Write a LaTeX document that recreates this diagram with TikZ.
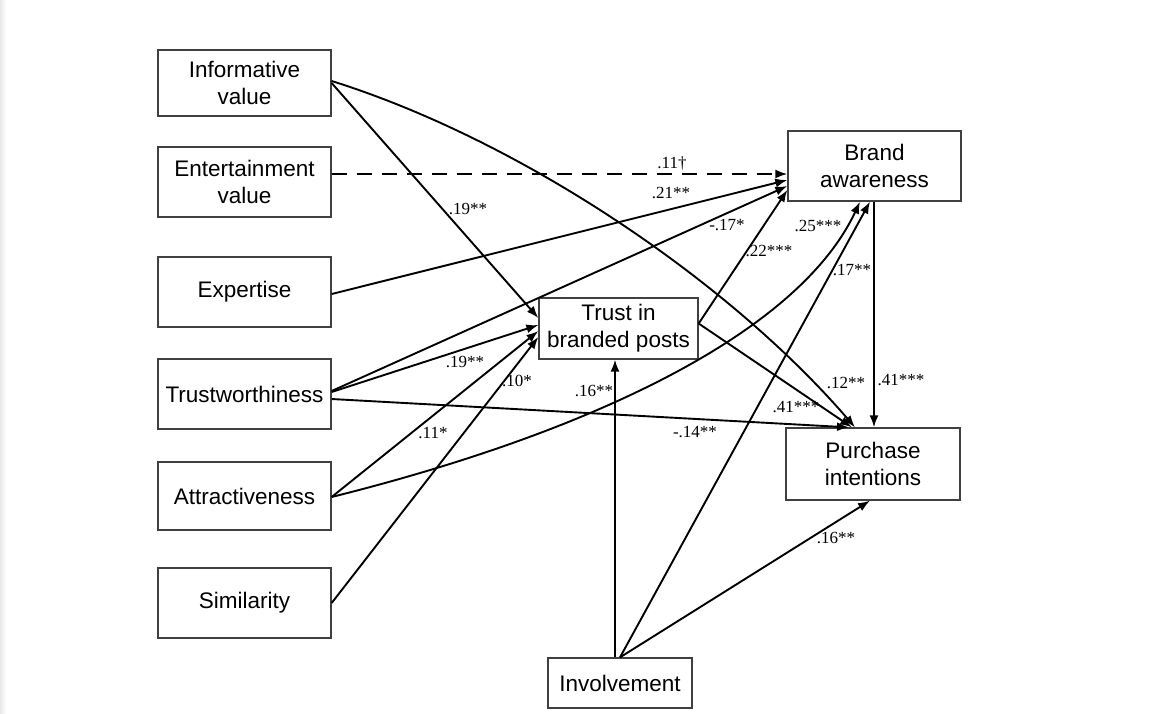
\documentclass[tikz,border=0pt]{standalone}
\usepackage{fontspec}
\setmainfont{Liberation Serif}
\newfontfamily\boxfont{Liberation Sans}
\usetikzlibrary{arrows.meta,calc}
\begin{document}
\begin{tikzpicture}[x=1pt,y=-1pt,
  box/.style={draw=black!75, line width=1.3pt, align=center, inner sep=0pt,
    font=\boxfont\fontsize{22.5}{27}\selectfont},
  arr/.style={-{Latex[length=12pt,width=9pt]}, line width=1.9pt},
  dasharr/.style={arr, dash pattern=on 15pt off 10pt},
  lbl/.style={font=\fontsize{17}{19}\selectfont, inner sep=0pt}]
\useasboundingbox (0,0) rectangle (1175,713);
\shade[left color=black!9, right color=white] (0,0) rectangle (6,713);

% boxes
\node[box, minimum width=173pt, minimum height=66pt] (inf) at (244.5,83) {Informative\\value};
\node[box, minimum width=173pt, minimum height=70pt] (ent) at (244.5,182) {Entertainment\\value};
\node[box, minimum width=173pt, minimum height=70pt] (exp) at (244.5,292) {Expertise};
\node[box, minimum width=173pt, minimum height=70pt] (trw) at (244.5,394) {Trustworthiness};
\node[box, minimum width=173pt, minimum height=68pt] (att) at (244.5,496) {Attractiveness};
\node[box, minimum width=173pt, minimum height=70pt] (sim) at (244.5,603) {Similarity};
\node[box, minimum width=159pt, minimum height=61pt] (trust) at (618.5,328.5) {Trust in\\branded posts};
\node[box, minimum width=173pt, minimum height=70pt] (brand) at (874.5,166) {Brand\\awareness};
\node[box, minimum width=174pt, minimum height=72pt] (purch) at (873,464) {Purchase\\intentions};
\node[box, minimum width=144pt, minimum height=50pt] (inv) at (620,683) {Involvement};

% connectors
\draw[arr] (inf.east) -- ($(trust.west)+(0,-10.5)$);
\draw[arr] ($(inf.east)+(0,-2)$) .. controls (520,140) and (728,280) .. ($(purch.north)+(-18,0)$);
\draw[dasharr] ($(ent.east)+(0,-8)$) -- ($(brand.west)+(0,8)$);
\draw[arr] ($(exp.east)+(0,2)$) -- ($(brand.west)+(0,14)$);
\draw[arr] ($(trw.east)+(0,-3)$) -- ($(brand.west)+(0,20)$);
\draw[arr] ($(trw.east)+(0,-2)$) -- ($(trust.west)+(0,-3.5)$);
\draw[arr] ($(trw.east)+(0,5)$) -- ($(purch.north)+(-24,0)$);
\draw[arr] ($(att.east)+(0,1)$) -- ($(trust.west)+(0,2.5)$);
\draw[arr] ($(att.east)+(0,1)$) .. controls (600,430) and (800,330) .. ($(brand.south)+(-14.5,0)$);
\draw[arr] (sim.east) -- ($(trust.west)+(0,8.5)$);
\draw[arr] ($(trust.east)+(0,-5)$) -- ($(brand.west)+(0,24)$);
\draw[arr] ($(trust.east)+(0,-5)$) -- ($(purch.north)+(-21,0)$);
\draw[arr] ($(inv.north)+(-5,0)$) -- ($(trust.south)+(-3.5,0)$);
\draw[arr] (inv.north) -- ($(brand.south)+(-4.5,0)$);
\draw[arr] (inv.north) -- ($(purch.south)+(-3,0)$);
\draw[arr] ($(brand.south)+(-0.5,0)$) -- ($(purch.north)+(1,0)$);

% labels
\node[lbl] (l1) at (468,209) {.19**};
\node[lbl] (l2) at (672,164) {.11†};
\node[lbl] (l3) at (671,193) {.21**};
\node[lbl] (l4) at (727,225) {-.17*};
\node[lbl] (l5) at (769,251) {.22***};
\node[lbl] (l6) at (818,226) {.25***};
\node[lbl] (l7) at (852,270) {.17**};
\node[lbl] (l8) at (465,362) {.19**};
\node[lbl] (l9) at (517,381) {.10*};
\node[lbl] (l10) at (433,433) {.11*};
\node[lbl] (l11) at (594,391) {.16**};
\node[lbl] (l12) at (846,383) {.12**};
\node[lbl] (l13) at (796,407) {.41***};
\node[lbl] (l14) at (695,432) {-.14**};
\node[lbl] (l15) at (901,380) {.41***};
\node[lbl] (l16) at (836,538) {.16**};
\end{tikzpicture}
\end{document}
